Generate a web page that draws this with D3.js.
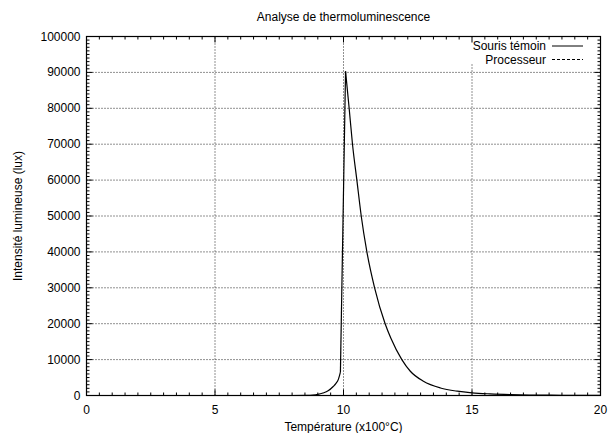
<!DOCTYPE html>
<html lang="fr">
<head>
  <meta charset="UTF-8">
  <title>Analyse de thermoluminescence</title>
  <style>
    body { margin: 0; background: #fff; }
    svg { font-family: "Liberation Sans", Arial, sans-serif; }
    .grid line { stroke: #222; stroke-width: 1; stroke-dasharray: 1,2; }
    .tick-label { font-size: 12px; fill: #000; }
  </style>
  <script src="https://d3js.org/d3.v7.min.js"></script>
</head>
<body>
<div id="chart"></div>
<script>
  // Temperature (x100°C) and light intensity (lux)
  var temperature = [0, 8.0, 8.6, 8.8, 9.0, 9.2, 9.4, 9.6, 9.7, 9.8, 9.88,
                     10.08, 10.22, 10.35, 10.52, 10.69, 10.91, 11.21, 11.62, 11.84, 12.27,
                     12.6, 13.11, 13.77, 14.42, 15.0, 15.7, 16.5, 17.5, 18.5, 20];
  var sourisTemoin = [0, 0, 20, 100, 300, 700, 1300, 2500, 3300, 4500, 6500,
                      90300, 80000, 70000, 60000, 50000, 40000, 30000, 20000, 16000, 10000,
                      6750, 3970, 2100, 1200, 740, 450, 250, 120, 60, 20];
  var processeurX = [0, 20];
  var processeur = [0, 0];

  var xTicks = [0, 5, 10, 15, 20];
  var yTicks = [0, 10000, 20000, 30000, 40000, 50000, 60000, 70000, 80000, 90000, 100000];
  var seriesNames = ["Souris témoin", "Processeur"];

  var width = 610, height = 433;
  var plotLeft = 86.5, plotRight = 600.5, plotTop = 36.5, plotBottom = 395.5;

  var svg = d3.select("#chart").append("svg")
    .attr("width", width)
    .attr("height", height);

  var x = d3.scaleLinear().domain([0, 20]).range([plotLeft, plotRight]);
  var y = d3.scaleLinear().domain([0, 100000]).range([plotBottom, plotTop]);

  // grid lines (dotted) at major ticks, not on the border
  var grid = svg.append("g").attr("class", "grid");
  grid.selectAll(".gx")
    .data(xTicks.filter(d => d > 0 && d < 20))
    .enter().append("line")
    .attr("x1", d => x(d)).attr("x2", d => x(d))
    .attr("y1", plotBottom).attr("y2", plotTop);
  grid.selectAll(".gy")
    .data(yTicks.filter(d => d > 0 && d < 100000))
    .enter().append("line")
    .attr("y1", d => y(d)).attr("y2", d => y(d))
    .attr("x1", plotLeft).attr("x2", plotRight);

  // key background hides the grid behind it
  svg.append("rect")
    .attr("x", 450).attr("y", plotTop + 1)
    .attr("width", plotRight - 451).attr("height", 26)
    .attr("fill", "#fff");

  // ticks on all four sides, pointing inward
  var ticks = svg.append("g").attr("stroke", "#000").attr("stroke-width", 1);
  var xMinor = d3.range(0, 20.01, 0.5);
  var yMinor = d3.range(0, 100001, 1000);
  xMinor.forEach(function(v) {
    var len = (v % 5 === 0) ? 6 : 3;
    ticks.append("line").attr("x1", x(v)).attr("x2", x(v)).attr("y1", plotBottom).attr("y2", plotBottom - len);
    ticks.append("line").attr("x1", x(v)).attr("x2", x(v)).attr("y1", plotTop).attr("y2", plotTop + len);
  });
  yMinor.forEach(function(v) {
    var len = (v % 10000 === 0) ? 6 : 3;
    ticks.append("line").attr("y1", y(v)).attr("y2", y(v)).attr("x1", plotLeft).attr("x2", plotLeft + len);
    ticks.append("line").attr("y1", y(v)).attr("y2", y(v)).attr("x1", plotRight).attr("x2", plotRight - len);
  });

  // tick labels
  svg.append("g").selectAll("text")
    .data(xTicks).enter().append("text")
    .attr("class", "tick-label")
    .attr("x", d => x(d)).attr("y", plotBottom + 18)
    .attr("text-anchor", "middle")
    .text(d => d);
  svg.append("g").selectAll("text")
    .data(yTicks).enter().append("text")
    .attr("class", "tick-label")
    .attr("x", plotLeft - 6).attr("y", d => y(d) + 4)
    .attr("text-anchor", "end")
    .text(d => d);

  // the curves
  var pts = temperature.map((t, i) => [t, sourisTemoin[i]]);
  var peak = d3.maxIndex(sourisTemoin);
  var smooth = d3.line().x(d => x(d[0])).y(d => y(d[1])).curve(d3.curveMonotoneX);
  var straight = d3.line().x(d => x(d[0])).y(d => y(d[1]));
  var curves = svg.append("g").attr("fill", "none").attr("stroke", "#000").attr("stroke-width", 1.2);
  curves.append("path").attr("d", smooth(pts.slice(0, peak)));
  curves.append("path").attr("d", straight(pts.slice(peak - 1, peak + 1)));
  curves.append("path").attr("d", smooth(pts.slice(peak)));
  curves.append("path")
    .attr("stroke-dasharray", "3,2")
    .attr("d", straight(processeurX.map((t, i) => [t, processeur[i]])));

  // border
  svg.append("rect")
    .attr("x", plotLeft).attr("y", plotTop)
    .attr("width", plotRight - plotLeft).attr("height", plotBottom - plotTop)
    .attr("fill", "none").attr("stroke", "#000").attr("stroke-width", 1.2);

  // key
  var key = svg.append("g");
  seriesNames.forEach(function(name, i) {
    var ky = 46 + i * 13.5;
    key.append("text")
      .attr("x", 546).attr("y", ky + 4)
      .attr("text-anchor", "end")
      .attr("font-size", "12px")
      .text(name);
    key.append("line")
      .attr("x1", 552).attr("x2", 583)
      .attr("y1", ky).attr("y2", ky)
      .attr("stroke", "#000").attr("stroke-width", 1)
      .attr("stroke-dasharray", i === 0 ? null : "3,2");
  });

  // titles
  svg.append("text")
    .attr("x", (plotLeft + plotRight) / 2).attr("y", 21)
    .attr("text-anchor", "middle")
    .attr("font-size", "12px")
    .text("Analyse de thermoluminescence");
  svg.append("text")
    .attr("x", (plotLeft + plotRight) / 2).attr("y", 431)
    .attr("text-anchor", "middle")
    .attr("font-size", "12px")
    .text("Température (x100°C)");
  svg.append("text")
    .attr("transform", "translate(22," + ((plotTop + plotBottom) / 2) + ") rotate(-90)")
    .attr("text-anchor", "middle")
    .attr("font-size", "12px")
    .text("Intensité lumineuse (lux)");
</script>
</body>
</html>
